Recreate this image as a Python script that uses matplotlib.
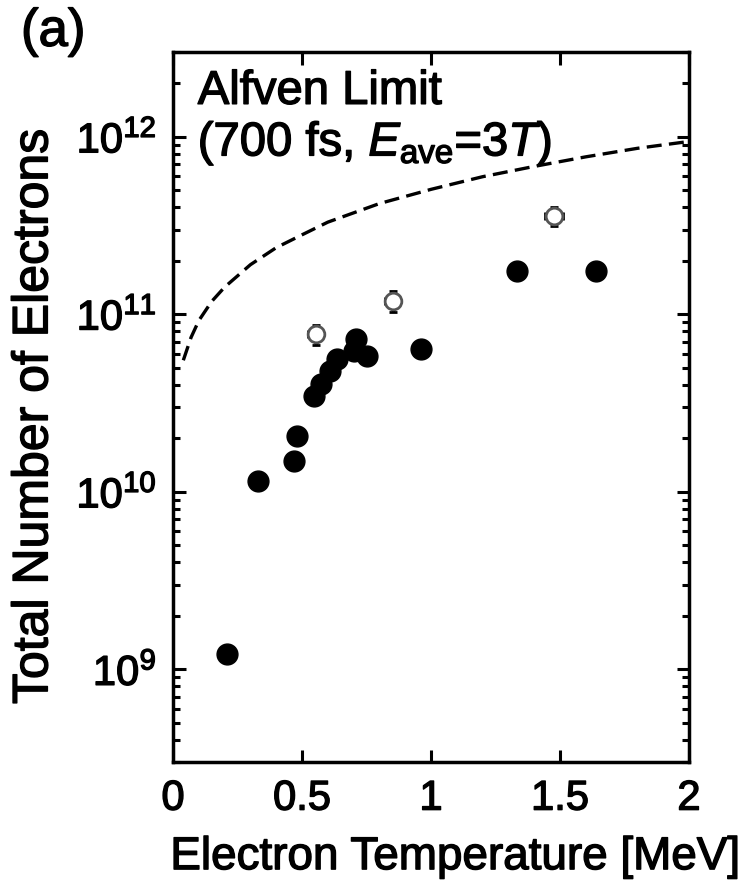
import matplotlib
matplotlib.use("Agg")
import matplotlib.pyplot as plt
import matplotlib.patheffects as pe
from matplotlib.ticker import LogLocator, NullFormatter, FixedLocator

plt.rcParams['font.family'] = ['Liberation Sans', 'DejaVu Sans']
plt.rcParams['mathtext.fontset'] = 'custom'
plt.rcParams['mathtext.rm'] = 'Liberation Sans'
plt.rcParams['mathtext.it'] = 'Liberation Sans:italic'

# filled points (measured)
temp_filled = [0.21, 0.33, 0.47, 0.48, 0.545, 0.575, 0.61, 0.635, 0.70, 0.71, 0.75, 0.96, 1.335, 1.64]
num_filled = [1.22e9, 1.15e10, 1.49e10, 2.07e10, 3.45e10, 4.05e10, 4.8e10, 5.6e10, 6.2e10, 7.25e10, 5.8e10, 6.4e10, 1.74e11, 1.74e11]
err_filled = [0.12e9, 0.1e10, 0.15e10, 0.2e10, 0.3e10, 0.4e10, 0.4e10, 0.5e10, 0.5e10, 0.7e10, 0.5e10, 0.6e10, 0.17e11, 0.17e11]

# open points
temp_open = [0.553, 0.851, 1.476]
num_open = [7.7e10, 1.19e11, 3.59e11]
xerr_open = [0.03, 0.03, 0.035]
yerr_open = [1.0e10, 1.6e10, 0.45e11]

# Alfven limit curve
temp_alfven = [0.04, 0.07, 0.10, 0.15, 0.20, 0.30, 0.40, 0.50, 0.60, 0.80, 1.00, 1.20, 1.40, 1.60, 1.80, 2.00]
num_alfven = [5.5e10, 7.4e10, 9.2e10, 1.18e11, 1.42e11, 1.9e11, 2.37e11, 2.8e11, 3.3e11, 4.2e11, 5.05e11, 5.95e11, 6.8e11, 7.7e11, 8.6e11, 9.4e11]

xticks = [0, 0.5, 1, 1.5, 2]
xticklabels = ["0", "0.5", "1", "1.5", "2"]
yticks = [1e9, 1e10, 1e11, 1e12]
yticklabels = [r"$\mathregular{10^{9}}$", r"$\mathregular{10^{10}}$", r"$\mathregular{10^{11}}$", r"$\mathregular{10^{12}}$"]

# slightly heavier text, like the scanned figure
heavy = [pe.withStroke(linewidth=1.0, foreground='black')]

fig = plt.figure(figsize=(7.49, 8.87), dpi=100)
ax = fig.add_axes([173 / 749, 124 / 887, 516 / 749, 710 / 887])

ax.plot(temp_alfven, num_alfven, color='black', linestyle=(0, (4.5, 2.2)), linewidth=2.4)

ax.errorbar(temp_filled, num_filled, yerr=err_filled, fmt='o', color='black',
            markersize=15, elinewidth=2, capsize=3, capthick=2)
ax.errorbar(temp_open, num_open, xerr=xerr_open, yerr=yerr_open, fmt='o',
            markerfacecolor='white', markeredgecolor='#555555', markeredgewidth=2,
            markersize=12, ecolor='black', elinewidth=2.2, capsize=3, capthick=2.2)

ax.set_yscale('log')
ax.set_xlim(0, 2)
ax.set_ylim(3e8, 3e12)

ax.xaxis.set_major_locator(FixedLocator(xticks))
ax.set_xticklabels(xticklabels)
ax.yaxis.set_major_locator(FixedLocator(yticks))
ax.set_yticklabels(yticklabels)
ax.yaxis.set_minor_locator(LogLocator(base=10, subs=range(2, 10)))
ax.yaxis.set_minor_formatter(NullFormatter())

ax.tick_params(which='both', direction='in', top=True, right=True, width=2.2)
ax.tick_params(which='major', length=9, labelsize=30, pad=12)
ax.tick_params(which='minor', length=5)
for s in ax.spines.values():
    s.set_linewidth(2.5)
for lbl in ax.get_xticklabels() + ax.get_yticklabels():
    lbl.set_path_effects(heavy)

ax.set_xlabel("Electron Temperature [MeV]", fontsize=33, path_effects=heavy)
ax.xaxis.set_label_coords(0.547, -0.103)
ax.set_ylabel("Total Number of Electrons", fontsize=36, path_effects=heavy)
ax.yaxis.set_label_coords(-0.224, 0.487)

ax.text(0.048, 0.927, "Alfven Limit", transform=ax.transAxes, fontsize=34,
        va='baseline', ha='left', path_effects=heavy)
ax.text(0.048, 0.854, r"(700 fs, $E_{\mathregular{ave}}$=3$T$)", transform=ax.transAxes,
        fontsize=34, va='baseline', ha='left', path_effects=heavy)

fig.text(0.028, 0.963, "(a)", fontsize=38, va='center', ha='left', path_effects=heavy)

fig.savefig("out.png", dpi=100)
